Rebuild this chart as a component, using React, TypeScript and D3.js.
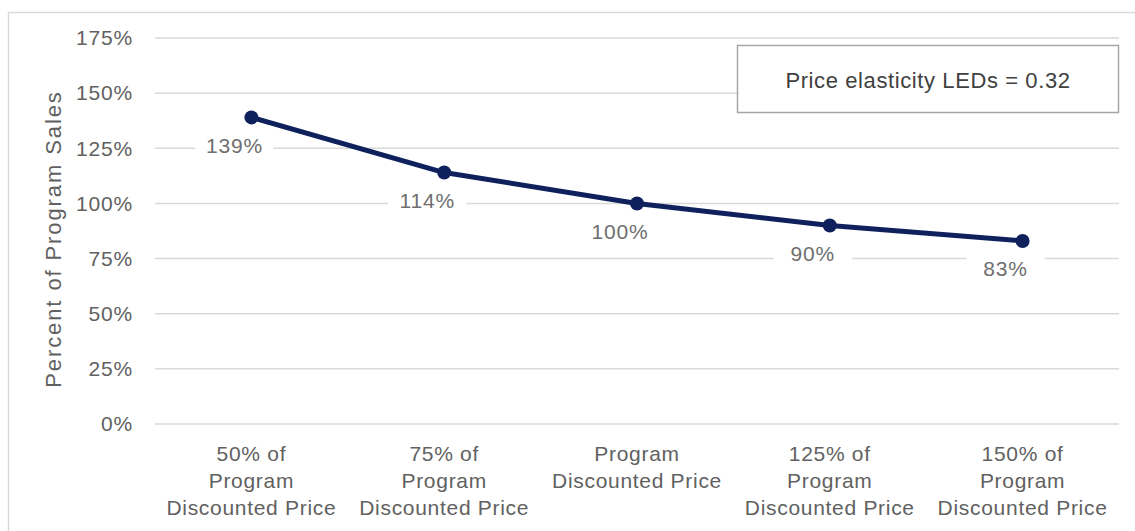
import React from "react";
import * as d3 from "d3";

// Price points tested, relative to the program discounted price
const categories: string[][] = [
  ["50% of", "Program", "Discounted Price"],
  ["75% of", "Program", "Discounted Price"],
  ["Program", "Discounted Price"],
  ["125% of", "Program", "Discounted Price"],
  ["150% of", "Program", "Discounted Price"],
];

// Sales at each price point as a percent of program sales
const salesPercent: number[] = [139, 114, 100, 90, 83];

const yTicks: number[] = [0, 25, 50, 75, 100, 125, 150, 175];

const yAxisTitle = "Percent of Program Sales";
const noteText = "Price elasticity LEDs = 0.32";

const W = 1135;
const H = 531;
const plot = { left: 155, right: 1119, top: 38, bottom: 424 };

const FONT = "'Liberation Sans', Arial, sans-serif";
const GRAY_TEXT = "#616161";
const LABEL_TEXT = "#6e6e6e";
const GRID = "#d9d9d9";
const LINE = "#0f215c";

export default function App() {
  const keys = categories.map((c) => c.join(" "));
  const x = d3.scaleBand<string>().domain(keys).range([plot.left, plot.right]);
  const y = d3.scaleLinear().domain([0, 175]).range([plot.bottom, plot.top]);
  const cx = (i: number) => (x(keys[i]) as number) + x.bandwidth() / 2;

  const points = salesPercent.map((v, i) => [cx(i), y(v)] as [number, number]);
  const linePath = d3.line()(points) as string;

  return (
    <svg
      width={W}
      height={H}
      style={{ position: "absolute", left: 0, top: 0, background: "#fff" }}
      fontFamily={FONT}
    >
      {/* chart frame */}
      <rect x={8.5} y={12.5} width={W + 20} height={H + 20} fill="#fff" stroke={GRID} strokeWidth={1.5} />

      {/* horizontal gridlines and y tick labels */}
      {yTicks.map((t) => (
        <g key={t}>
          <line x1={plot.left} x2={plot.right} y1={y(t)} y2={y(t)} stroke={GRID} strokeWidth={1.5} />
          <text
            x={133}
            y={y(t)}
            dy="0.35em"
            textAnchor="end"
            fontSize={21}
            letterSpacing={0.8}
            fill={GRAY_TEXT}
          >
            {t}%
          </text>
        </g>
      ))}

      {/* y axis title */}
      <text
        transform={`translate(61, ${(plot.top + plot.bottom) / 2 + 8}) rotate(-90)`}
        textAnchor="middle"
        fontSize={22}
        letterSpacing={1.9}
        fill={GRAY_TEXT}
      >
        {yAxisTitle}
      </text>

      {/* x category labels */}
      {categories.map((lines, i) => (
        <text key={i} textAnchor="middle" fontSize={21} letterSpacing={0.7} fill={GRAY_TEXT}>
          {lines.map((ln, j) => (
            <tspan key={j} x={cx(i)} y={461 + j * 27}>
              {ln}
            </tspan>
          ))}
        </text>
      ))}

      {/* sales line */}
      <path d={linePath} fill="none" stroke={LINE} strokeWidth={5} strokeLinejoin="round" />
      {points.map(([px, py], i) => (
        <circle key={i} cx={px} cy={py} r={7} fill={LINE} />
      ))}

      {/* value labels with white backing */}
      {salesPercent.map((v, i) => {
        const lx = cx(i) - 17;
        const ly = y(v) + 28;
        return (
          <g key={i}>
            <rect x={lx - 39} y={ly - 14} width={78} height={28} fill="#fff" />
            <text
              x={lx}
              y={ly}
              dy="0.35em"
              textAnchor="middle"
              fontSize={21}
              letterSpacing={0.8}
              fill={LABEL_TEXT}
            >
              {v}%
            </text>
          </g>
        );
      })}

      {/* elasticity note */}
      <rect x={737.5} y={45.5} width={381} height={67} fill="#fff" stroke="#a6a6a6" strokeWidth={1.5} />
      <text
        x={928}
        y={80}
        dy="0.35em"
        textAnchor="middle"
        fontSize={22}
        letterSpacing={0.6}
        fill="#404040"
      >
        {noteText}
      </text>
    </svg>
  );
}
